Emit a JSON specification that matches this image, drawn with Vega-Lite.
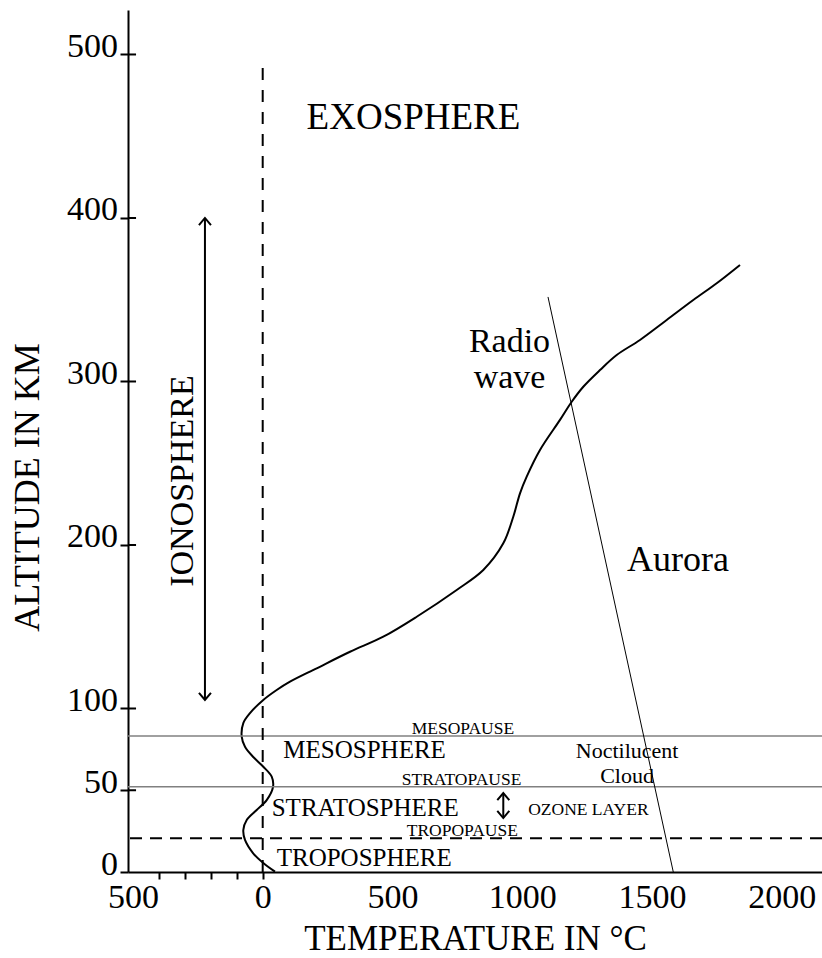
{
  "$schema": "https://vega.github.io/schema/vega-lite/v6.json",
  "width": 694,
  "height": 862,
  "autosize": {"type": "none"},
  "padding": {"left": 128, "top": 10, "right": 0, "bottom": 86},
  "background": "white",
  "config": {"view": {"stroke": null}, "font": "Liberation Serif", "axis": {"grid": false}},
  "datasets": {
    "curve": [
      {"i": 1, "t": 47.4, "alt": 0.2},
      {"i": 2, "t": 2.3, "alt": 5.5},
      {"i": 3, "t": -37.4, "alt": 11.6},
      {"i": 4, "t": -68.2, "alt": 19.6},
      {"i": 5, "t": -74.7, "alt": 25.7},
      {"i": 6, "t": -61.6, "alt": 31.8},
      {"i": 7, "t": -23.1, "alt": 37.9},
      {"i": 8, "t": 15.4, "alt": 44.0},
      {"i": 9, "t": 39.7, "alt": 52.0},
      {"i": 10, "t": 34.7, "alt": 58.3},
      {"i": 11, "t": 2.3, "alt": 64.4},
      {"i": 12, "t": -37.4, "alt": 70.5},
      {"i": 13, "t": -68.2, "alt": 76.6},
      {"i": 14, "t": -80.9, "alt": 82.8},
      {"i": 15, "t": -74.7, "alt": 91.1},
      {"i": 16, "t": -48.9, "alt": 97.2},
      {"i": 17, "t": 2.3, "alt": 105.2},
      {"i": 18, "t": 53.9, "alt": 111.3},
      {"i": 19, "t": 105.2, "alt": 116.4},
      {"i": 20, "t": 208.1, "alt": 124.6},
      {"i": 21, "t": 336.4, "alt": 134.7},
      {"i": 22, "t": 464.7, "alt": 143.9},
      {"i": 23, "t": 593.4, "alt": 156.1},
      {"i": 24, "t": 747.5, "alt": 172.5},
      {"i": 25, "t": 850.0, "alt": 184.7},
      {"i": 26, "t": 927.0, "alt": 201.0},
      {"i": 27, "t": 965.5, "alt": 217.3},
      {"i": 28, "t": 991.4, "alt": 231.6},
      {"i": 29, "t": 1017.2, "alt": 241.8},
      {"i": 30, "t": 1068.4, "alt": 258.1},
      {"i": 31, "t": 1145.5, "alt": 276.5},
      {"i": 32, "t": 1190.6, "alt": 287.6},
      {"i": 33, "t": 1235.3, "alt": 296.8},
      {"i": 34, "t": 1299.6, "alt": 307.0},
      {"i": 35, "t": 1364.0, "alt": 316.2},
      {"i": 36, "t": 1453.7, "alt": 325.4},
      {"i": 37, "t": 1556.6, "alt": 337.6},
      {"i": 38, "t": 1659.0, "alt": 349.8},
      {"i": 39, "t": 1749.3, "alt": 360.1},
      {"i": 40, "t": 1839.0, "alt": 371.3}
    ],
    "pauses": [{"name": "mesopause", "alt": 83.2}, {"name": "stratopause", "alt": 52.2}],
    "tropopause": [{"name": "tropopause", "alt": 20.6}],
    "zeroline": [{"t": 0, "alt": 0, "alt2": 492.5}],
    "aurora": [{"t": 1099.3, "alt": 351.7, "t2": 1582, "alt2": 0}],
    "arrows": [{"name": "ionosphere", "t": -222.5, "alt": 105.2, "alt2": 400}, {"name": "ozone", "t": 927, "alt": 33.0, "alt2": 48.3}],
    "upheads": [{"t": -222.5, "alt": 400}, {"t": 927, "alt": 48.3}],
    "downheads": [{"t": -222.5, "alt": 105.2}, {"t": 927, "alt": 33.0}],
    "yticks": [{"alt": 50}, {"alt": 100}, {"alt": 200}, {"alt": 300}, {"alt": 400}, {"alt": 500}],
    "bigcenter": [{"label": "EXOSPHERE", "t": 581, "alt": 454.2}],
    "radio": [{"label": "Radio\nwave", "t": 951, "alt": 318.0}],
    "aurora_label": [{"label": "Aurora", "t": 1404, "alt": 184.1}],
    "spheres": [
      {"label": "MESOSPHERE", "t": 79.4, "alt": 69.5},
      {"label": "STRATOSPHERE", "t": 34.7, "alt": 34.3},
      {"label": "TROPOSPHERE", "t": 54, "alt": 3.7}
    ],
    "small": [
      {"label": "MESOPAUSE", "t": 574, "alt": 84.4},
      {"label": "STRATOPAUSE", "t": 535.6, "alt": 53.2},
      {"label": "TROPOPAUSE", "t": 554.8, "alt": 21.8},
      {"label": "OZONE LAYER", "t": 1023, "alt": 34.9}
    ],
    "cloud": [{"label": "Noctilucent\nCloud", "t": 1404, "alt": 69.5}],
    "iono": [{"label": "IONOSPHERE", "t": -268.6, "alt": 239.1}]
  },
  "layer": [
    {
      "data": {"name": "curve"},
      "mark": {"type": "line", "color": "black", "strokeWidth": 2, "interpolate": "catmull-rom"},
      "encoding": {
        "x": {
          "field": "t", "type": "quantitative",
          "scale": {"domain": [-519, 2155], "nice": false, "zero": false},
          "axis": {
            "values": [-500, -400, -300, -200, -100, 0, 500, 1000, 1500, 2000],
            "labelExpr": "datum.value % 500 === 0 ? format(abs(datum.value), 'd') : ''",
            "labelFont": "Liberation Serif", "labelFontSize": 34, "labelColor": "black",
            "labelBaseline": "alphabetic", "labelPadding": 28, "labelFlush": false, "labelOverlap": false,
            "tickSize": 7, "tickWidth": 2, "tickColor": "black",
            "tickOpacity": {"condition": {"test": "datum.value > -500 && datum.value <= 0", "value": 1}, "value": 0},
            "domainColor": "black", "domainWidth": 2,
            "title": "TEMPERATURE IN °C", "titleFont": "Liberation Serif", "titleFontSize": 35,
            "titleFontWeight": "normal", "titleColor": "black", "titleBaseline": "alphabetic", "titleY": 77
          }
        },
        "y": {
          "field": "alt", "type": "quantitative",
          "scale": {"domain": [0, 527.2], "nice": false, "zero": false},
          "axis": {
            "values": [0, 50, 100, 200, 300, 400, 500],
            "labelFont": "Liberation Serif", "labelFontSize": 34, "labelColor": "black",
            "labelBaseline": "alphabetic", "labelOffset": 2, "labelPadding": 2.5, "labelFlush": false, "labelOverlap": false,
            "tickSize": 8, "tickWidth": 2, "tickColor": "black",
            "domainColor": "black", "domainWidth": 2,
            "title": "ALTITUDE IN KM", "titleFont": "Liberation Serif", "titleFontSize": 36,
            "titleFontWeight": "normal", "titleColor": "black", "titleAngle": 270, "titleAlign": "center",
            "titleBaseline": "alphabetic", "titleX": -90, "titleY": 477
          }
        },
        "order": {"field": "i", "type": "quantitative"}
      }
    },
    {
      "data": {"name": "pauses"},
      "mark": {"type": "rule", "color": "#808080", "strokeWidth": 1.5},
      "encoding": {"y": {"field": "alt", "type": "quantitative"}}
    },
    {
      "data": {"name": "tropopause"},
      "mark": {"type": "rule", "color": "black", "strokeWidth": 2, "strokeDash": [12, 8]},
      "encoding": {"y": {"field": "alt", "type": "quantitative"}}
    },
    {
      "data": {"name": "zeroline"},
      "mark": {"type": "rule", "color": "black", "strokeWidth": 2, "strokeDash": [12, 10]},
      "encoding": {
        "x": {"field": "t", "type": "quantitative"},
        "y": {"field": "alt", "type": "quantitative"},
        "y2": {"field": "alt2"}
      }
    },
    {
      "data": {"name": "aurora"},
      "mark": {"type": "rule", "color": "black", "strokeWidth": 1},
      "encoding": {
        "x": {"field": "t", "type": "quantitative"},
        "x2": {"field": "t2"},
        "y": {"field": "alt", "type": "quantitative"},
        "y2": {"field": "alt2"}
      }
    },
    {
      "data": {"name": "arrows"},
      "mark": {"type": "rule", "color": "black", "strokeWidth": 2},
      "encoding": {
        "x": {"field": "t", "type": "quantitative"},
        "y": {"field": "alt", "type": "quantitative"},
        "y2": {"field": "alt2"}
      }
    },
    {
      "data": {"name": "upheads"},
      "mark": {"type": "point", "shape": "M -1 1.2 L 0 0 L 1 1.2", "filled": false, "size": 144, "strokeWidth": 2, "color": "black", "opacity": 1},
      "encoding": {
        "x": {"field": "t", "type": "quantitative"},
        "y": {"field": "alt", "type": "quantitative"}
      }
    },
    {
      "data": {"name": "downheads"},
      "mark": {"type": "point", "shape": "M -1 -1.2 L 0 0 L 1 -1.2", "filled": false, "size": 144, "strokeWidth": 2, "color": "black", "opacity": 1},
      "encoding": {
        "x": {"field": "t", "type": "quantitative"},
        "y": {"field": "alt", "type": "quantitative"}
      }
    },
    {
      "data": {"name": "yticks"},
      "mark": {"type": "rule", "color": "black", "strokeWidth": 2},
      "encoding": {
        "x": {"datum": -519},
        "x2": {"datum": -488},
        "y": {"field": "alt", "type": "quantitative"}
      }
    },
    {
      "data": {"name": "bigcenter"},
      "mark": {"type": "text", "font": "Liberation Serif", "fontSize": 37, "align": "center", "baseline": "alphabetic", "color": "black"},
      "encoding": {
        "x": {"field": "t", "type": "quantitative"},
        "y": {"field": "alt", "type": "quantitative"},
        "text": {"field": "label"}
      }
    },
    {
      "data": {"name": "radio"},
      "mark": {"type": "text", "font": "Liberation Serif", "fontSize": 34, "align": "center", "baseline": "alphabetic", "lineBreak": "\n", "lineHeight": 36, "color": "black"},
      "encoding": {
        "x": {"field": "t", "type": "quantitative"},
        "y": {"field": "alt", "type": "quantitative"},
        "text": {"field": "label"}
      }
    },
    {
      "data": {"name": "aurora_label"},
      "mark": {"type": "text", "font": "Liberation Serif", "fontSize": 36, "align": "left", "baseline": "alphabetic", "color": "black"},
      "encoding": {
        "x": {"field": "t", "type": "quantitative"},
        "y": {"field": "alt", "type": "quantitative"},
        "text": {"field": "label"}
      }
    },
    {
      "data": {"name": "spheres"},
      "mark": {"type": "text", "font": "Liberation Serif", "fontSize": 25, "align": "left", "baseline": "alphabetic", "color": "black"},
      "encoding": {
        "x": {"field": "t", "type": "quantitative"},
        "y": {"field": "alt", "type": "quantitative"},
        "text": {"field": "label"}
      }
    },
    {
      "data": {"name": "small"},
      "mark": {"type": "text", "font": "Liberation Serif", "fontSize": 17.5, "align": "left", "baseline": "alphabetic", "color": "black"},
      "encoding": {
        "x": {"field": "t", "type": "quantitative"},
        "y": {"field": "alt", "type": "quantitative"},
        "text": {"field": "label"}
      }
    },
    {
      "data": {"name": "cloud"},
      "mark": {"type": "text", "font": "Liberation Serif", "fontSize": 22, "align": "center", "baseline": "alphabetic", "lineBreak": "\n", "lineHeight": 25, "color": "black"},
      "encoding": {
        "x": {"field": "t", "type": "quantitative"},
        "y": {"field": "alt", "type": "quantitative"},
        "text": {"field": "label"}
      }
    },
    {
      "data": {"name": "iono"},
      "mark": {"type": "text", "font": "Liberation Serif", "fontSize": 34, "align": "center", "baseline": "alphabetic", "angle": 270, "color": "black"},
      "encoding": {
        "x": {"field": "t", "type": "quantitative"},
        "y": {"field": "alt", "type": "quantitative"},
        "text": {"field": "label"}
      }
    }
  ]
}
